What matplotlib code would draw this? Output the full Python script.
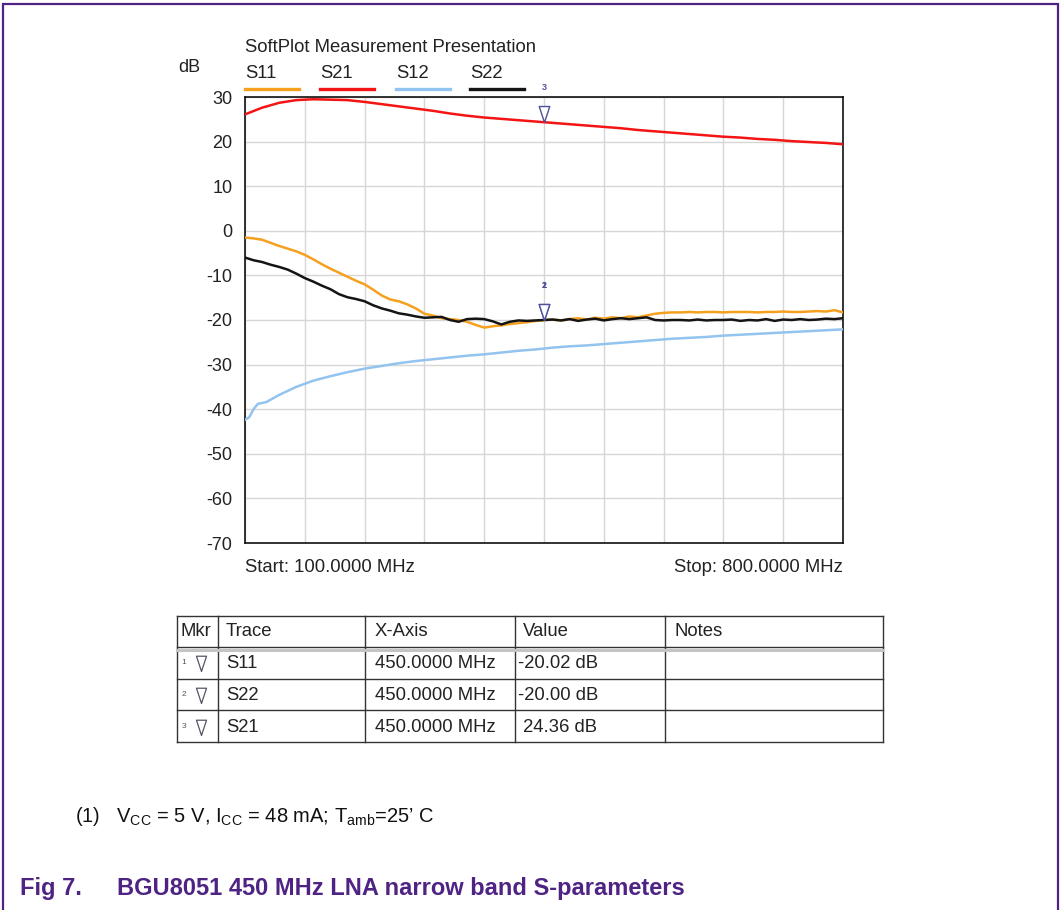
import matplotlib
matplotlib.use("Agg")
import matplotlib.pyplot as plt
import numpy as np

plt.rcParams['font.family'] = ['Liberation Sans', 'DejaVu Sans']
plt.rcParams['mathtext.fontset'] = 'custom'
plt.rcParams['mathtext.rm'] = 'Liberation Sans'
plt.rcParams['axes.unicode_minus'] = False

# S-parameter sweeps, frequency in MHz, magnitude in dB
freq_10 = np.arange(100, 801, 10)
s11 = [-1.5, -1.7, -2.0, -2.7, -3.4, -4.0, -4.6, -5.4, -6.4, -7.5,
       -8.5, -9.4, -10.3, -11.2, -12.0, -13.2, -14.5, -15.4, -15.8, -16.5,
       -17.4, -18.6, -19.0, -19.6, -19.8, -20.0, -20.4, -21.1, -21.7, -21.4,
       -21.2, -20.9, -20.7, -20.5, -20.2, -20.02, -19.9, -20.1, -19.8, -19.6,
       -19.9, -19.5, -19.7, -19.4, -19.6, -19.2, -19.4, -19.0, -18.6, -18.4,
       -18.3, -18.3, -18.2, -18.3, -18.2, -18.2, -18.3, -18.2, -18.2, -18.2,
       -18.3, -18.2, -18.2, -18.1, -18.2, -18.2, -18.1, -18.0, -18.1, -17.8,
       -18.3]
s22 = [-6.0, -6.6, -7.0, -7.6, -8.1, -8.7, -9.6, -10.6, -11.4, -12.3,
       -13.1, -14.2, -14.9, -15.3, -15.8, -16.7, -17.4, -17.9, -18.5, -18.8,
       -19.2, -19.5, -19.4, -19.3, -20.0, -20.4, -19.8, -19.7, -19.8, -20.3,
       -21.0, -20.4, -20.1, -20.2, -20.1, -20.0, -19.9, -20.1, -19.8, -20.2,
       -19.9, -19.7, -20.1, -19.8, -19.6, -19.8, -19.6, -19.4, -20.0, -20.1,
       -20.0, -20.0, -20.1, -19.9, -20.1, -20.0, -20.0, -19.9, -20.2, -20.0,
       -20.1, -19.8, -20.2, -19.9, -20.0, -19.8, -20.0, -19.9, -19.7, -19.8,
       -19.6]
freq_s21 = np.arange(100, 801, 20)
s21 = [26.1, 27.6, 28.7, 29.3, 29.5, 29.4, 29.3, 28.9, 28.4, 27.9,
       27.4, 26.9, 26.3, 25.8, 25.4, 25.1, 24.8, 24.5, 24.2, 23.9,
       23.6, 23.3, 23.0, 22.6, 22.3, 22.0, 21.7, 21.4, 21.1, 20.9,
       20.6, 20.4, 20.1, 19.9, 19.7, 19.4]
freq_s12 = [100, 105, 110, 115, 125, 140, 160, 180] + list(range(200, 801, 20))
s12 = [-42.4, -41.8, -40.0, -38.8, -38.4, -36.8, -35.0, -33.6,
       -32.6, -31.7, -30.9, -30.3, -29.7, -29.2, -28.8, -28.4, -28.0, -27.7,
       -27.3, -26.9, -26.6, -26.2, -25.9, -25.7, -25.4, -25.1, -24.8, -24.5,
       -24.2, -24.0, -23.8, -23.5, -23.3, -23.1, -22.9, -22.7, -22.5, -22.3,
       -22.1]

trace_names = ["S11", "S21", "S12", "S22"]
trace_colors = ["#F5A01E", "#F41414", "#93C3EF", "#141414"]
trace_data = {"S11": (freq_10, s11), "S21": (freq_s21, s21),
              "S12": (freq_s12, s12), "S22": (freq_10, s22)}

# marker table
mkr_ids = [1, 2, 3]
mkr_traces = ["S11", "S22", "S21"]
mkr_freq = [450.0, 450.0, 450.0]
mkr_value = [-20.02, -20.00, 24.36]

fig = plt.figure(figsize=(10.61, 9.10), dpi=100)
fig.patch.set_facecolor("white")

# pixel-space layer for frame, legend, table and captions
bg = fig.add_axes([0, 0, 1, 1], zorder=0)
bg.set_xlim(0, 1061)
bg.set_ylim(910, 0)
bg.axis("off")

purple = "#4E2383"
bg.plot([3, 3, 1058, 1058], [910, 4, 4, 910], color=purple, lw=1.6,
        solid_joinstyle="miter")

ax = fig.add_axes([245 / 1061, 1 - 543 / 910, 598 / 1061, 446 / 910], zorder=1)
for name, color in zip(trace_names, trace_colors):
    f, v = trace_data[name]
    ax.plot(f, v, color=color, lw=1.8, zorder=3)

ax.set_xlim(100, 800)
ax.set_ylim(-70, 30)
ax.set_xticks(np.linspace(100, 800, 11))
ax.set_xticklabels([])
ax.set_yticks(range(-70, 31, 10))
ax.tick_params(length=0, pad=9, labelsize=13, labelcolor="#222222")
ax.grid(True, color="#D6D6D6", lw=1)
for sp in ax.spines.values():
    sp.set_linewidth(1.2)
    sp.set_color("#111111")

# marker triangles, tip sitting on the trace
tri = [(0, 0), (-0.33, 1), (0.33, 1), (0, 0)]
for mid, fq, val in zip(mkr_ids, mkr_freq, mkr_value):
    ax.plot(fq, val, marker=tri, ms=23, mfc="white", mec="#50509A", mew=1,
            zorder=5, clip_on=False)
    ax.annotate(str(mid), (fq, val), xytext=(0, 25), textcoords="offset points",
                ha="center", va="center", fontsize=6.5, color="#50509A",
                fontweight="bold", annotation_clip=False)

# header above the plot
bg.text(245, 47, "SoftPlot Measurement Presentation", fontsize=13.3,
        color="#222222", va="center")
bg.text(178, 68, "dB", fontsize=13, color="#222222", va="center")
leg_x = [245, 320, 396, 470]
for lx, name, color in zip(leg_x, trace_names, trace_colors):
    bg.text(lx, 73, name, fontsize=13.3, color="#222222", va="center")
    bg.plot([lx, lx + 54], [89, 89], color=color, lw=2.4)

bg.text(245, 567, "Start: 100.0000 MHz", fontsize=13.3, color="#222222", va="center")
bg.text(843, 567, "Stop: 800.0000 MHz", fontsize=13.3, color="#222222",
        va="center", ha="right")

# marker table
x_cols = [177, 218, 365, 515, 665, 883]
y_rows = [616, 647, 679, 710, 742]
for x in x_cols:
    bg.plot([x, x], [y_rows[0], y_rows[-1]], color="#333333", lw=1)
for y in y_rows:
    bg.plot([x_cols[0], x_cols[-1]], [y, y], color="#333333", lw=1)
bg.plot([x_cols[0], x_cols[-1]], [650, 650], color="#C4C4C4", lw=2.2)

headers = ["Mkr", "Trace", "X-Axis", "Value", "Notes"]
head_x = [180, 226, 375, 523, 674]
for hx, h in zip(head_x, headers):
    bg.text(hx, 632, h, fontsize=13.3, color="#222222", va="center")

row_y = [663, 695, 727]
for ry, mid, tr, fq, val in zip(row_y, mkr_ids, mkr_traces, mkr_freq, mkr_value):
    bg.text(184, ry, str(mid), fontsize=6, color="#555555", va="center", ha="center")
    bg.plot(201, ry + 8, marker=tri, ms=22, mfc="white", mec="#555566", mew=0.9)
    bg.text(226, ry, tr, fontsize=13.3, color="#222222", va="center")
    bg.text(375, ry, f"{fq:.4f} MHz", fontsize=13.3, color="#222222", va="center")
    bg.text(518, ry, f"{val: .2f} dB", fontsize=13.3, color="#222222", va="center")

# captions
bg.text(75, 816, r"(1)   V$_\mathrm{CC}$ = 5 V, I$_\mathrm{CC}$ = 48 mA; T$_\mathrm{amb}$=25’ C",
        fontsize=14.5, color="#111111", va="center")
bg.text(20, 888, "Fig 7.", fontsize=17, fontweight="bold", color=purple, va="center")
bg.text(117, 888, "BGU8051 450 MHz LNA narrow band S-parameters", fontsize=17,
        fontweight="bold", color=purple, va="center")

fig.savefig("out.png", dpi=100, facecolor="white")
